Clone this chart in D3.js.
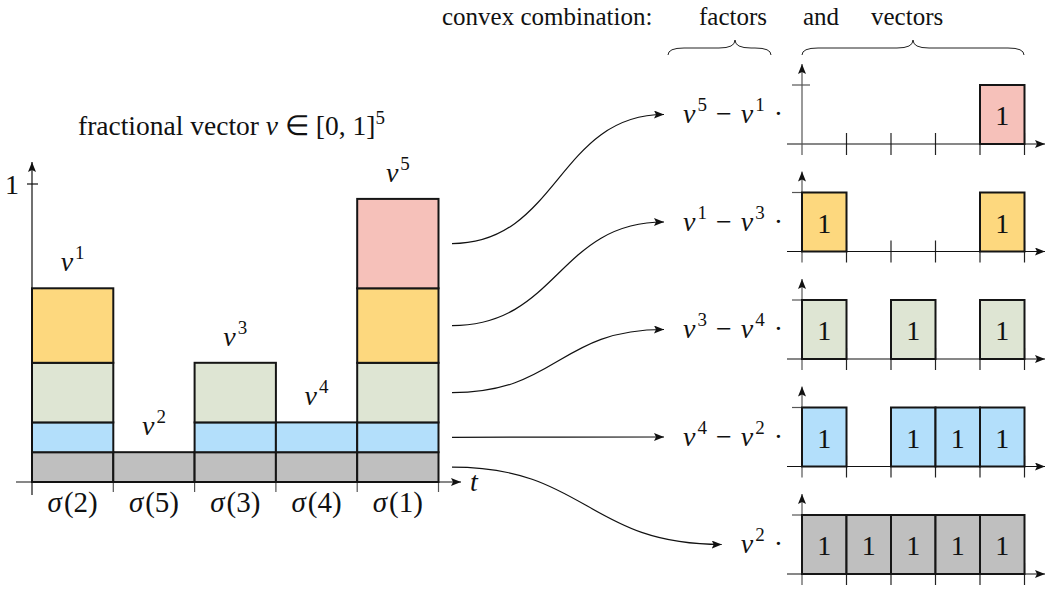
<!DOCTYPE html>
<html>
<head>
  <meta charset="UTF-8">
  <style>
    body { margin: 0; background: #fff; }
    svg text { font-family: "Liberation Serif", "Times New Roman", serif; }
  </style>
</head>
<body>
  <div id="viz"></div>
  <script src="https://d3js.org/d3.v7.min.js"></script>
  <script>
    // columns of the step function, in sigma order
    const sigmaLabels = ["2", "5", "3", "4", "1"]
    // which vector v^k sits on each column
    const vecLabels = ["1", "2", "3", "4", "5"]
    // height of each column (value of v^k)
    const colValues = [0.65, 0.1, 0.4, 0.2, 0.95]
    // fill colour of each layer, from bottom (smallest value) to top
    const layerColors = ["#bfbfbf", "#b3dffb", "#dee5d3", "#fdd87e", "#f6c1ba"]
    const boxLabel = "1"

    const W = 1045, H = 592
    const svg = d3.select("#viz").append("svg")
      .attr("width", W).attr("height", H)

    function txt(sel) {
      return sel.append("text")
        .style("font-family", "'Liberation Serif', 'Times New Roman', serif")
        .attr("fill", "#111")
    }

    const defs = svg.append("defs")
    defs.append("marker")
      .attr("id", "arrow")
      .attr("viewBox", "0 0 10 8")
      .attr("refX", 10).attr("refY", 4)
      .attr("markerWidth", 10).attr("markerHeight", 8)
      .attr("markerUnits", "userSpaceOnUse")
      .attr("orient", "auto")
      .append("path").attr("d", "M0,0 L10,4 L0,8 L2,4 Z").attr("fill", "#111")

    // layers: sort column values, each layer goes from previous level to next
    let order = d3.range(colValues.length).sort(function(a, b) { return colValues[a] - colValues[b] })
    let layers = order.map(function(ci, i) {
      return {
        lo: i === 0 ? 0 : colValues[order[i - 1]],
        hi: colValues[ci],
        vec: vecLabels[ci],
        prev: i === 0 ? null : vecLabels[order[i - 1]],
        color: layerColors[i],
        cols: d3.range(colValues.length).filter(function(j) { return colValues[j] >= colValues[ci] })
      }
    })

    // ---- left chart ----
    const x = d3.scaleBand().domain(sigmaLabels).range([32, 438.5]).padding(0)
    const y = d3.scaleLinear().domain([0, 1]).range([482, 184])

    const left = svg.append("g")

    left.selectAll("line.tick").data(sigmaLabels)
      .enter().append("line")
      .attr("x1", function(d) { return x(d) + x.bandwidth() })
      .attr("x2", function(d) { return x(d) + x.bandwidth() })
      .attr("y1", y(0)).attr("y2", y(0) + 10)
      .attr("stroke", "#555").attr("stroke-width", 1.2)

    left.selectAll("g.layer").data(layers)
      .enter().append("g").attr("class", "layer")
      .each(function(L) {
        d3.select(this).selectAll("rect").data(L.cols)
          .enter().append("rect")
          .attr("x", function(j) { return x(sigmaLabels[j]) })
          .attr("width", x.bandwidth())
          .attr("y", y(L.hi))
          .attr("height", y(L.lo) - y(L.hi))
          .attr("fill", L.color)
          .attr("stroke", "#151515").attr("stroke-width", 2)
      })

    // axes
    left.append("line")
      .attr("x1", 16).attr("x2", 461).attr("y1", y(0)).attr("y2", y(0))
      .attr("stroke", "#111").attr("stroke-width", 1.2).attr("marker-end", "url(#arrow)")
    left.append("line")
      .attr("x1", 32).attr("x2", 32).attr("y1", y(0) + 13).attr("y2", 162)
      .attr("stroke", "#111").attr("stroke-width", 1.2).attr("marker-end", "url(#arrow)")
    left.append("line")
      .attr("x1", 27).attr("x2", 38).attr("y1", y(1)).attr("y2", y(1))
      .attr("stroke", "#111").attr("stroke-width", 1.2)
    txt(left).attr("x", 19).attr("y", y(1) + 10)
      .attr("text-anchor", "end").attr("font-size", 28).text("1")
    txt(left).attr("x", 470).attr("y", y(0) + 9)
      .attr("font-size", 28).attr("font-style", "italic").text("t")

    // sigma labels
    sigmaLabels.forEach(function(d) {
      let t = txt(left)
        .attr("x", x(d) + x.bandwidth() / 2)
        .attr("y", 512)
        .attr("text-anchor", "middle").attr("font-size", 29)
      t.append("tspan").attr("font-style", "italic").text("σ")
      t.append("tspan").attr("dx", 2).text("(" + d + ")")
    })

    // v^k labels above columns
    vecLabels.forEach(function(d, j) {
      let t = txt(left)
        .attr("x", x(sigmaLabels[j]) + x.bandwidth() / 2)
        .attr("y", y(colValues[j]) - 17)
        .attr("text-anchor", "middle").attr("font-size", 28)
      t.append("tspan").attr("font-style", "italic").text("v")
      t.append("tspan").attr("dy", -12).attr("dx", 2).attr("font-size", 19).text(d)
    })

    // title
    let title = txt(left).attr("x", 78).attr("y", 135).attr("font-size", 27.5)
    title.append("tspan").text("fractional vector ")
    title.append("tspan").attr("font-style", "italic").text("v")
    title.append("tspan").text(" ∈ [0, 1]")
    title.append("tspan").attr("dy", -11).attr("font-size", 19).text("5")

    // ---- right column of unit vectors ----
    const xs = d3.scaleBand().domain(sigmaLabels).range([802, 1024.5]).padding(0)
    const rowAxis = d3.scaleLinear().domain([0, layers.length - 1]).range([144, 574])
    const unit = 59

    const right = svg.append("g")
    const rows = layers.slice().reverse()

    rows.forEach(function(L, r) {
      let ay = rowAxis(r)
      let ys = d3.scaleLinear().domain([0, 1]).range([ay, ay - unit])
      let g = right.append("g")

      g.selectAll("line.xt").data(sigmaLabels)
        .enter().append("line")
        .attr("x1", function(d) { return xs(d) + xs.bandwidth() })
        .attr("x2", function(d) { return xs(d) + xs.bandwidth() })
        .attr("y1", ay - 11).attr("y2", ay + 11)
        .attr("stroke", "#222").attr("stroke-width", 1.2)

      g.append("line").attr("x1", 787).attr("x2", 1045).attr("y1", ay).attr("y2", ay)
        .attr("stroke", "#111").attr("stroke-width", 1.2).attr("marker-end", "url(#arrow)")
      g.append("line").attr("x1", 802).attr("x2", 802).attr("y1", ay + 11).attr("y2", ay - 80)
        .attr("stroke", "#555").attr("stroke-width", 1.2).attr("marker-end", "url(#arrow)")
      g.append("line").attr("x1", 792).attr("x2", 810).attr("y1", ys(1)).attr("y2", ys(1))
        .attr("stroke", "#555").attr("stroke-width", 1.2)

      g.selectAll("rect").data(L.cols)
        .enter().append("rect")
        .attr("x", function(j) { return xs(sigmaLabels[j]) })
        .attr("width", xs.bandwidth())
        .attr("y", ys(1)).attr("height", ys(0) - ys(1))
        .attr("fill", L.color)
        .attr("stroke", "#151515").attr("stroke-width", 2)

      L.cols.forEach(function(j) {
        txt(g).attr("x", xs(sigmaLabels[j]) + xs.bandwidth() / 2)
          .attr("y", ay - 19)
          .attr("text-anchor", "middle").attr("font-size", 28)
          .text(boxLabel)
      })

      // factor label, right aligned before the plot
      let lab = txt(g).attr("x", 783).attr("y", ay - 21)
        .attr("text-anchor", "end").attr("font-size", 28)
      lab.append("tspan").attr("font-style", "italic").text("v")
      lab.append("tspan").attr("dy", -12).attr("dx", 2).attr("font-size", 19).text(L.vec)
      if (L.prev !== null) {
        lab.append("tspan").attr("dy", 12).attr("dx", 9).text("−")
        lab.append("tspan").attr("dx", 9).attr("font-style", "italic").text("v")
        lab.append("tspan").attr("dy", -12).attr("dx", 2).attr("font-size", 19).text(L.prev)
      }
      lab.append("tspan").attr("dy", 12).attr("dx", 9).text("·")

      // connector from the layer in the left chart
      let bb = lab.node().getBBox()
      let link = d3.linkHorizontal()
      g.append("path")
        .attr("d", link({ source: [452, (y(L.lo) + y(L.hi)) / 2], target: [bb.x - 19, ay - unit / 2] }))
        .attr("fill", "none").attr("stroke", "#111").attr("stroke-width", 1.2)
        .attr("marker-end", "url(#arrow)")
    })

    // ---- header and braces ----
    const head = svg.append("g")
    const headWords = [["convex combination:", 442], ["factors", 699], ["and", 803], ["vectors", 871]]
    headWords.forEach(function(d) {
      txt(head).attr("x", d[1]).attr("y", 25).attr("font-size", 25).text(d[0])
    })

    function brace(x0, x1, tip) {
      let yb = 55, yf = 48, yt = 40, r = 16
      return "M" + x0 + "," + yb + " Q" + x0 + "," + yf + " " + (x0 + r) + "," + yf +
        " L" + (tip - r) + "," + yf + " Q" + tip + "," + yf + " " + tip + "," + yt +
        " Q" + tip + "," + yf + " " + (tip + r) + "," + yf +
        " L" + (x1 - r) + "," + yf + " Q" + x1 + "," + yf + " " + x1 + "," + yb
    }
    head.append("path").attr("d", brace(668, 771, 735))
      .attr("fill", "none").attr("stroke", "#222").attr("stroke-width", 1)
    head.append("path").attr("d", brace(802, 1024, 913))
      .attr("fill", "none").attr("stroke", "#222").attr("stroke-width", 1)
  </script>
</body>
</html>
